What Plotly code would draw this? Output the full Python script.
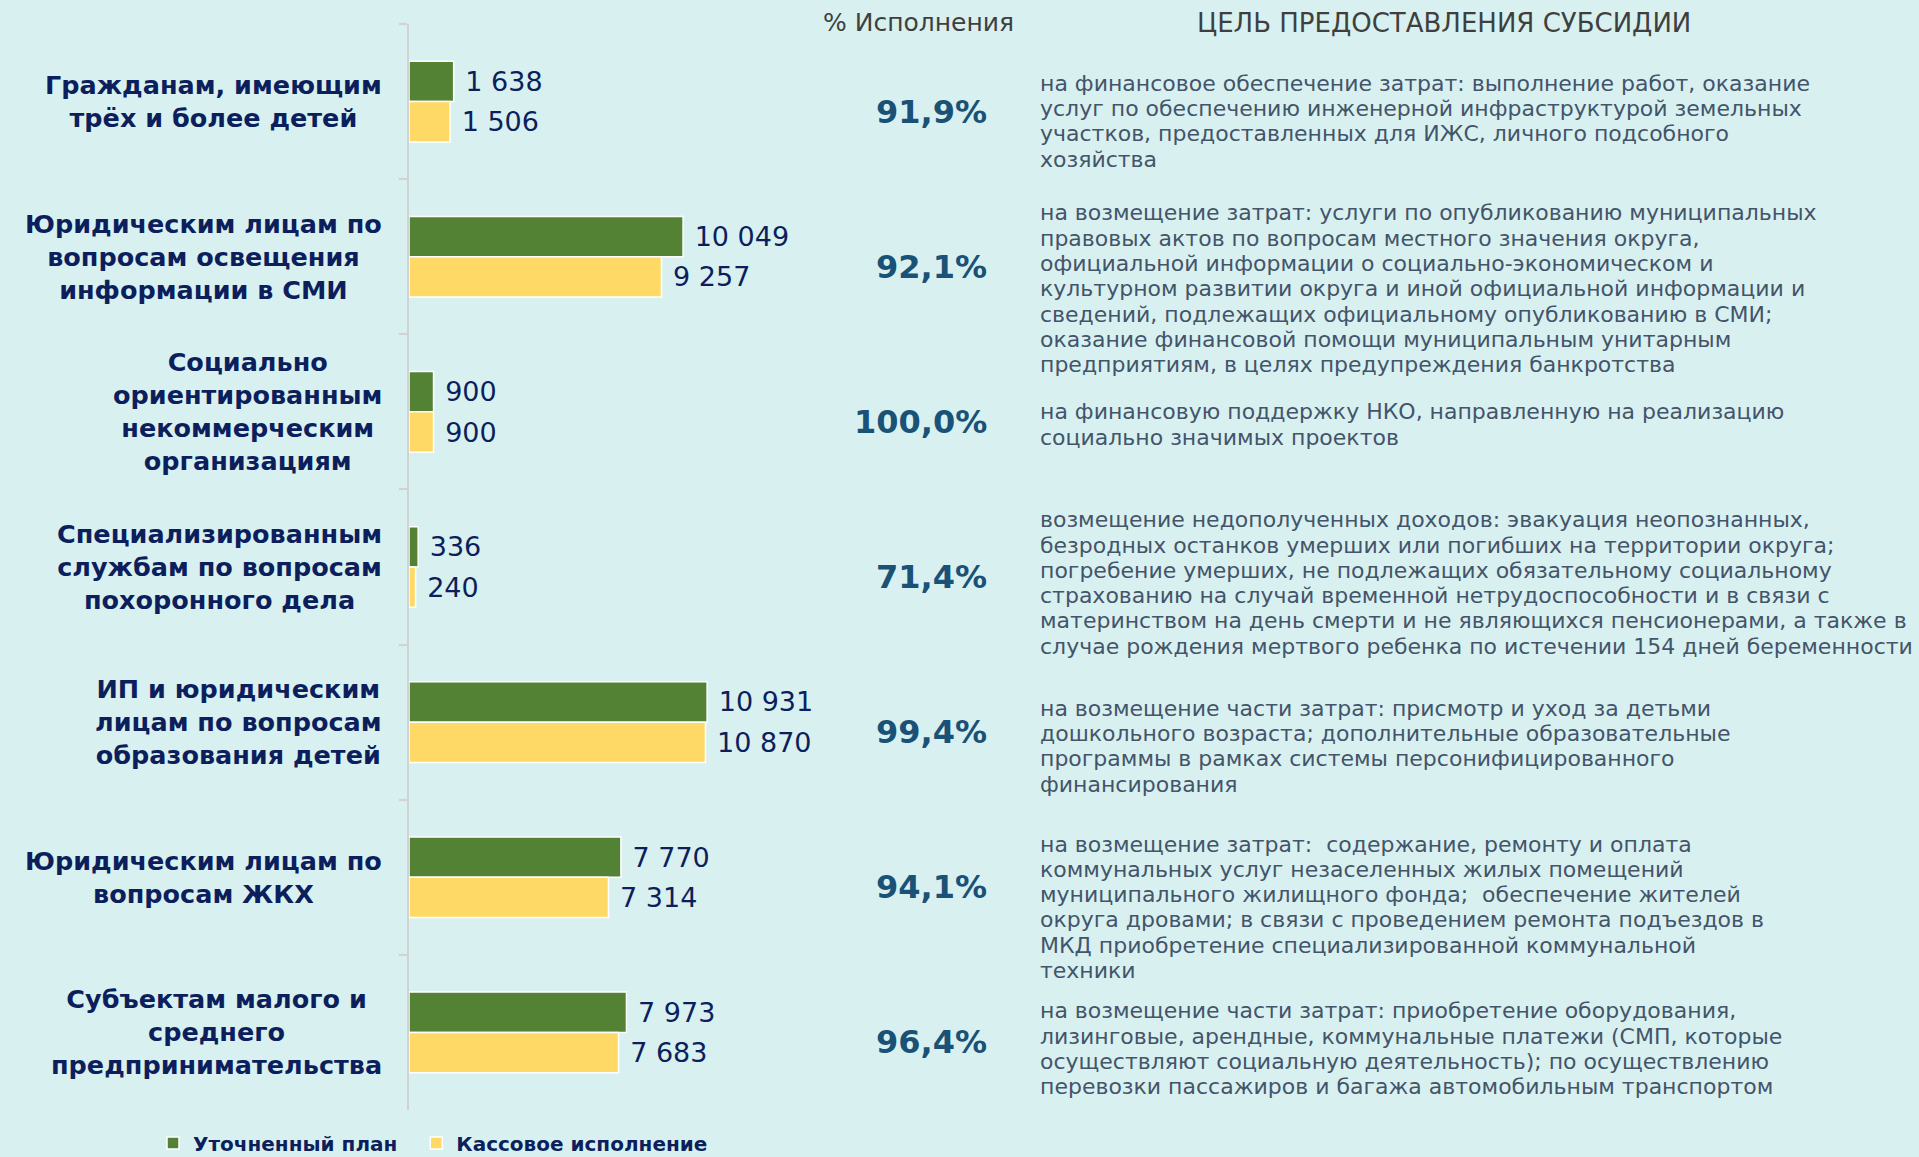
import plotly.graph_objects as go

# ---------------- data ----------------
categories = [
    "Гражданам, имеющим<br>трёх и более детей",
    "Юридическим лицам по<br>вопросам освещения<br>информации в СМИ",
    "Социально<br>ориентированным<br>некоммерческим<br>организациям",
    "Специализированным<br>службам по вопросам<br>похоронного дела",
    "ИП и юридическим<br>лицам по вопросам<br>образования детей",
    "Юридическим лицам по<br>вопросам ЖКХ",
    "Субъектам малого и<br>среднего<br>предпринимательства",
]
plan_values = [1638, 10049, 900, 336, 10931, 7770, 7973]
fact_values = [1506, 9257, 900, 240, 10870, 7314, 7683]
series_names = ["Уточненный план", "Кассовое исполнение"]

header_pct = "% Исполнения"
header_goal = "ЦЕЛЬ ПРЕДОСТАВЛЕНИЯ СУБСИДИИ"

descriptions = [
    ["на финансовое обеспечение затрат: выполнение работ, оказание",
     "услуг по обеспечению инженерной инфраструктурой земельных",
     "участков, предоставленных для ИЖС, личного подсобного",
     "хозяйства"],
    ["на возмещение затрат: услуги по опубликованию муниципальных",
     "правовых актов по вопросам местного значения округа,",
     "официальной информации о социально-экономическом и",
     "культурном развитии округа и иной официальной информации и",
     "сведений, подлежащих официальному опубликованию в СМИ;",
     "оказание финансовой помощи муниципальным унитарным",
     "предприятиям, в целях предупреждения банкротства"],
    ["на финансовую поддержку НКО, направленную на реализацию",
     "социально значимых проектов"],
    ["возмещение недополученных доходов: эвакуация неопознанных,",
     "безродных останков умерших или погибших на территории округа;",
     "погребение умерших, не подлежащих обязательному социальному",
     "страхованию на случай временной нетрудоспособности и в связи с",
     "материнством на день смерти и не являющихся пенсионерами, а также в",
     "случае рождения мертвого ребенка по истечении 154 дней беременности"],
    ["на возмещение части затрат: присмотр и уход за детьми",
     "дошкольного возраста; дополнительные образовательные",
     "программы в рамках системы персонифицированного",
     "финансирования"],
    ["на возмещение затрат:  содержание, ремонту и оплата",
     "коммунальных услуг незаселенных жилых помещений",
     "муниципального жилищного фонда;  обеспечение жителей",
     "округа дровами; в связи с проведением ремонта подъездов в",
     "МКД приобретение специализированной коммунальной",
     "техники"],
    ["на возмещение части затрат: приобретение оборудования,",
     "лизинговые, арендные, коммунальные платежи (СМП, которые",
     "осуществляют социальную деятельность); по осуществлению",
     "перевозки пассажиров и багажа автомобильным транспортом"],
]

# ---------------- style ----------------
FONT = "DejaVu Sans"
BG = "#d8f1f0"
GREEN = "#548235"
YELLOW = "#ffd966"
NAVY = "#0c1f5c"
PCT_COLOR = "#1a5177"
DESC_COLOR = "#44546a"
HEAD_COLOR = "#3f3f3f"
AXIS_COLOR = "#d2d2d2"

W, H = 1919, 1157
ML, MR, MT, MB = 409, 10, 24, 47
PW = W - ML - MR
PH = H - MT - MB

def px_x(px):
    return (px - ML) / PW

def px_y(px):
    return (H - MB - px) / PH

fig = go.Figure()
legend_pad = ["\u00a0\u00a0", ""]
for name, pad, vals, color in [(series_names[0], legend_pad[0], plan_values, GREEN),
                               (series_names[1], legend_pad[1], fact_values, YELLOW)]:
    fig.add_trace(go.Bar(
        y=categories, x=vals, name=name + pad, orientation="h",
        marker=dict(color=color, line=dict(color="white", width=1.5)),
        texttemplate="\u00a0%{x:,}", textposition="outside",
        constraintext="none", cliponaxis=False,
        textfont=dict(family=FONT, size=27, color=NAVY),
        hoverinfo="skip",
    ))

annotations = []
# category labels
for cat in categories:
    annotations.append(dict(
        x=0, xref="paper", y=cat, yref="y", xshift=-25,
        xanchor="right", yanchor="middle", align="center",
        text=cat, showarrow=False,
        font=dict(family=FONT, size=25.5, color=NAVY, weight=600),
    ))

# percentages computed from data
for cat, p, f in zip(categories, plan_values, fact_values):
    pct = f"{f / p * 100:.1f}%".replace(".", ",")
    annotations.append(dict(
        x=px_x(989), xref="paper", y=cat, yref="y", yshift=-10,
        xanchor="right", yanchor="middle", text=pct, showarrow=False,
        font=dict(family=FONT, size=32, color=PCT_COLOR, weight="bold"),
    ))

# description lines
LINE_H = 25.3
block_center_offsets = [19.5, 32, 12.5, 16, 24, 30, 16.5]
for cat, lines, off in zip(categories, descriptions, block_center_offsets):
    n = len(lines)
    for i, line in enumerate(lines):
        dy = off + (i - (n - 1) / 2) * LINE_H
        annotations.append(dict(
            x=px_x(1038), xref="paper", y=cat, yref="y", yshift=-dy,
            xanchor="left", yanchor="middle", text=line, showarrow=False,
            font=dict(family=FONT, size=22, color=DESC_COLOR),
        ))

# headers
annotations.append(dict(x=px_x(918), xref="paper", y=px_y(23), yref="paper",
                        xanchor="center", yanchor="middle", text=header_pct,
                        showarrow=False,
                        font=dict(family=FONT, size=25, color=HEAD_COLOR, weight=500)))
annotations.append(dict(x=px_x(1444), xref="paper", y=px_y(23), yref="paper",
                        xanchor="center", yanchor="middle", text=header_goal,
                        showarrow=False,
                        font=dict(family=FONT, size=26, color=HEAD_COLOR, weight=500)))

fig.update_layout(
    width=W, height=H,
    margin=dict(l=ML, r=MR, t=MT, b=MB, pad=0, autoexpand=False),
    paper_bgcolor=BG, plot_bgcolor=BG,
    barmode="group", bargap=0.48, bargroupgap=0,
    separators=", ",
    showlegend=True,
    legend=dict(orientation="h", x=px_x(153), y=px_y(1143),
                xanchor="left", yanchor="middle",
                font=dict(family=FONT, size=20, color=NAVY, weight=600),
                itemwidth=30,
                bgcolor="rgba(0,0,0,0)", traceorder="normal"),
    annotations=annotations,
    font=dict(family=FONT),
)
fig.update_xaxes(range=[0, 55000], visible=False, fixedrange=True)
fig.update_yaxes(autorange="reversed", showticklabels=False,
                 ticks="outside", tickson="boundaries", ticklen=8,
                 tickcolor=AXIS_COLOR, tickwidth=2,
                 showline=True, linecolor=AXIS_COLOR, linewidth=2,
                 showgrid=False, zeroline=False, fixedrange=True)

fig.write_html("out.html")
